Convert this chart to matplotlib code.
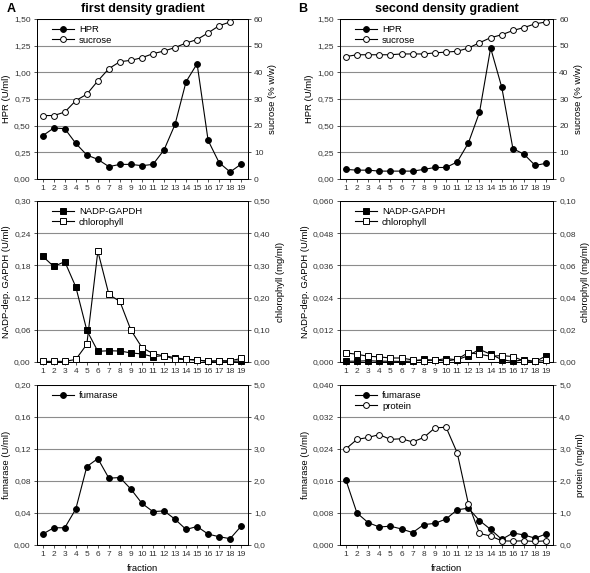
import matplotlib
matplotlib.use('Agg')
import matplotlib.pyplot as plt
import numpy as np
from matplotlib.ticker import FuncFormatter, MultipleLocator

plt.rcParams['font.family'] = ['Liberation Sans', 'DejaVu Sans']

fractions = list(range(1, 20))

# A: first density gradient
hprA = [0.406, 0.478, 0.472, 0.334, 0.225, 0.184, 0.116, 0.137, 0.137, 0.125,
        0.137, 0.272, 0.512, 0.912, 1.081, 0.362, 0.153, 0.066, 0.140]
sucroseA = [23.8, 23.8, 25.1, 29.4, 31.8, 36.8, 41.4, 44.0, 44.5, 45.5,
            47.0, 48.0, 49.3, 51.0, 52.3, 54.8, 57.5, 58.9, np.nan]
gapdhA = [0.197, 0.178, 0.187, 0.140, 0.059, 0.020, 0.021, 0.0205, 0.017, 0.015,
          0.010, 0.012, 0.008, 0.005, 0.004, 0.001, 0.002, 0.001, 0.002]
chloroA = [0.002, 0.002, 0.002, 0.008, 0.055, 0.344, 0.210, 0.188, 0.099, 0.045,
           0.026, 0.019, 0.009, 0.008, 0.006, 0.003, 0.004, 0.004, 0.011]
fumaraseA = [0.0136, 0.0215, 0.0215, 0.045, 0.098, 0.108, 0.0835, 0.0843, 0.0698, 0.052,
             0.0417, 0.0426, 0.0322, 0.0194, 0.0231, 0.0136, 0.0103, 0.0079, 0.0236]

# B: second density gradient
hprB = [0.090, 0.083, 0.083, 0.074, 0.074, 0.074, 0.074, 0.090, 0.108, 0.108,
        0.160, 0.337, 0.625, 1.228, 0.860, 0.285, 0.232, 0.127, 0.148]
sucroseB = [45.9, 46.6, 46.6, 46.6, 46.6, 46.9, 46.9, 46.9, 47.3, 47.6,
            47.9, 49.1, 51.1, 53.0, 54.1, 55.7, 56.8, 58.2, 58.9]
gapdhB = [0.0003, 0.0003, 0.0005, 0.0003, 0.0003, 0.0002, 0.0003, 0.0010, 0.0006, 0.0013,
          0.0008, 0.0024, 0.0047, 0.0029, 0.0009, 0.0002, 0.0009, 0.0002, 0.0023]
chloroB = [0.0057, 0.0048, 0.0036, 0.0032, 0.0025, 0.0025, 0.0013, 0.0008, 0.0013, 0.0006,
           0.0017, 0.0059, 0.0048, 0.0036, 0.0040, 0.0034, 0.0006, 0.0004, 0.0010]
fumaraseB = [0.0163, 0.0080, 0.0056, 0.0045, 0.0047, 0.0040, 0.0031, 0.0051, 0.0054, 0.0065,
             0.0088, 0.0092, 0.0061, 0.0039, 0.0014, 0.0030, 0.0025, 0.0017, 0.0028]
proteinB = [3.00, 3.30, 3.36, 3.45, 3.30, 3.32, 3.22, 3.36, 3.66, 3.68,
            2.88, 1.29, 0.36, 0.28, 0.13, 0.12, 0.13, 0.11, 0.13]


def commaFmt(decimals):
    return FuncFormatter(lambda v, p: f"{v:.{decimals}f}".replace('.', ','))


def drawPanel(rect, leftSeries, rightSeries, leftLim, leftStep, leftDec, rightLim, rightStep, rightDec,
              leftLabel, rightLabel, xlabel=None):
    ax = fig.add_axes(rect)
    ax2 = ax.twinx()
    handles = []
    for axis, series in ((ax, leftSeries), (ax2, rightSeries)):
        for values, marker, face, name in series:
            h, = axis.plot(fractions, values, '-', color='black', lw=0.8, marker=marker,
                           markersize=4.2, markerfacecolor=face, markeredgecolor='black',
                           markeredgewidth=0.7, label=name, clip_on=False, zorder=3)
            handles.append(h)
    ax.set_xlim(0.48, 19.6)
    ax.set_ylim(*leftLim)
    ax2.set_ylim(*rightLim)
    ax.yaxis.set_major_locator(MultipleLocator(leftStep))
    ax2.yaxis.set_major_locator(MultipleLocator(rightStep))
    ax.yaxis.set_major_formatter(commaFmt(leftDec))
    ax2.yaxis.set_major_formatter(commaFmt(rightDec))
    ax.set_xticks(fractions)
    ax.grid(axis='y', color='0.55', lw=0.8)
    ax.set_axisbelow(True)
    for a in (ax, ax2):
        a.tick_params(labelsize=6, length=2.5, width=0.6, direction='out', pad=2, colors='#333333')
        for s in a.spines.values():
            s.set_linewidth(0.7)
    ax.set_ylabel(leftLabel, fontsize=6.8, labelpad=2)
    ax2.set_ylabel(rightLabel, fontsize=6.8, labelpad=3.5)
    if xlabel:
        ax.set_xlabel(xlabel, fontsize=6.8, labelpad=4)
    ax2.legend(handles=handles, loc='upper left', bbox_to_anchor=(0.04, 1.0), frameon=False,
               fontsize=6.8, handlelength=2.4, handletextpad=0.5, labelspacing=0.15, borderaxespad=0.25)
    return ax


fig = plt.figure(figsize=(5.9, 5.73), dpi=100)

colA = (0.0627, 0.3573)
colB = (0.5763, 0.3610)
rows = [(0.6876, 0.2792), (0.3682, 0.2810), (0.0489, 0.2792)]

drawPanel((colA[0], rows[0][0], colA[1], rows[0][1]),
          [(hprA, 'o', 'black', 'HPR')], [(sucroseA, 'o', 'white', 'sucrose')],
          (0, 1.5), 0.25, 2, (0, 60), 10, 0, 'HPR (U/ml)', 'sucrose (% w/w)')
drawPanel((colA[0], rows[1][0], colA[1], rows[1][1]),
          [(gapdhA, 's', 'black', 'NADP-GAPDH')], [(chloroA, 's', 'white', 'chlorophyll')],
          (0, 0.30), 0.06, 2, (0, 0.5), 0.1, 2, 'NADP-dep. GAPDH (U/ml)', 'chlorophyll (mg/ml)')
drawPanel((colA[0], rows[2][0], colA[1], rows[2][1]),
          [(fumaraseA, 'o', 'black', 'fumarase')], [],
          (0, 0.20), 0.04, 2, (0, 5), 1, 1, 'fumarase (U/ml)', '', 'fraction')

drawPanel((colB[0], rows[0][0], colB[1], rows[0][1]),
          [(hprB, 'o', 'black', 'HPR')], [(sucroseB, 'o', 'white', 'sucrose')],
          (0, 1.5), 0.25, 2, (0, 60), 10, 0, 'HPR (U/ml)', 'sucrose (% w/w)')
drawPanel((colB[0], rows[1][0], colB[1], rows[1][1]),
          [(gapdhB, 's', 'black', 'NADP-GAPDH')], [(chloroB, 's', 'white', 'chlorophyll')],
          (0, 0.060), 0.012, 3, (0, 0.10), 0.02, 2, 'NADP-dep. GAPDH (U/ml)', 'chlorophyll (mg/ml)')
drawPanel((colB[0], rows[2][0], colB[1], rows[2][1]),
          [(fumaraseB, 'o', 'black', 'fumarase')], [(proteinB, 'o', 'white', 'protein')],
          (0, 0.040), 0.008, 3, (0, 5), 1, 1, 'fumarase (U/ml)', 'protein (mg/ml)', 'fraction')

fig.text(0.012, 0.985, 'A', fontsize=9, fontweight='bold', va='center')
fig.text(0.505, 0.985, 'B', fontsize=9, fontweight='bold', va='center')
fig.text(colA[0] + colA[1] / 2, 0.985, 'first density gradient', fontsize=9, fontweight='bold',
         ha='center', va='center')
fig.text(colB[0] + colB[1] / 2, 0.985, 'second density gradient', fontsize=9, fontweight='bold',
         ha='center', va='center')

fig.savefig('out.png', dpi=100)
